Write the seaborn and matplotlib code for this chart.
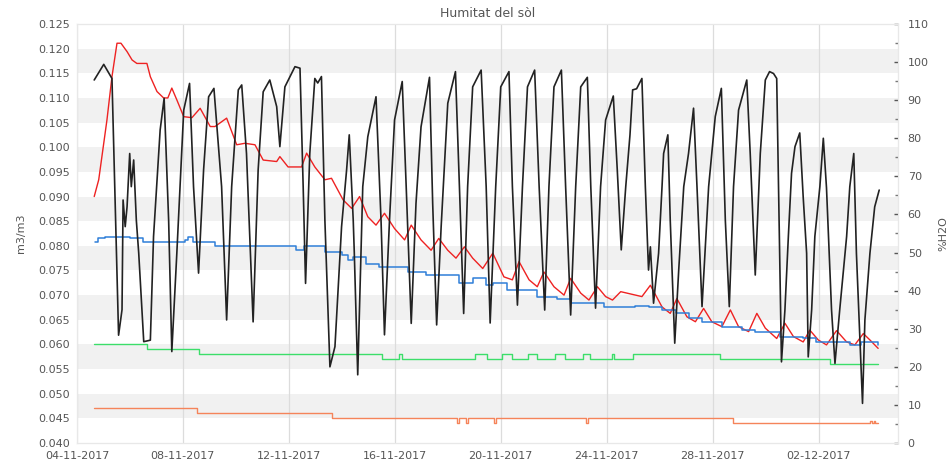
import numpy as np
import pandas as pd
import matplotlib
matplotlib.use("Agg")
import matplotlib.pyplot as plt
import seaborn as sns

# ---------------- data (days since 04-11-2017 00:00) ----------------
START = "2017-11-04"

black_days = [0.65, 1.01, 1.32, 1.57, 1.70, 1.74, 1.82, 1.89, 1.99, 2.05, 2.14, 2.24, 2.33,
              2.52, 2.77, 2.89, 3.14, 3.29, 3.46, 3.58, 3.77, 4.03, 4.25, 4.40, 4.59, 4.78,
              4.97, 5.17, 5.46, 5.65, 5.84, 6.09, 6.22, 6.40, 6.65, 6.84, 7.03, 7.28, 7.54,
              7.66, 7.85, 8.23, 8.42, 8.54, 8.63, 8.79, 8.98, 9.09, 9.23, 9.36, 9.55, 9.74,
              9.99, 10.18, 10.28, 10.43, 10.47, 10.60, 10.79, 10.98, 11.29, 11.48, 11.61,
              11.80, 11.99, 12.28, 12.43, 12.62, 12.80, 12.99, 13.31, 13.43, 13.58, 13.75,
              14.00, 14.29, 14.44, 14.60, 14.75, 14.94, 15.26, 15.45, 15.60, 15.81, 16.00,
              16.31, 16.44, 16.63, 16.82, 17.01, 17.28, 17.45, 17.66, 17.82, 18.01, 18.29,
              18.45, 18.64, 18.83, 19.02, 19.27, 19.40, 19.58, 19.77, 19.96, 20.25, 20.40,
              20.55, 20.72, 20.88, 20.98, 21.13, 21.33, 21.46, 21.58, 21.65, 21.77, 21.96,
              22.09, 22.15, 22.31, 22.40, 22.57, 22.72, 22.91, 23.09, 23.28, 23.41, 23.60,
              23.85, 24.10, 24.33, 24.48, 24.63, 24.79, 24.98, 25.29, 25.42, 25.61, 25.80,
              25.99, 26.15, 26.30, 26.42, 26.60, 26.73, 26.86, 26.98, 27.11, 27.29, 27.42,
              27.55, 27.61, 27.74, 27.86, 28.05, 28.18, 28.30, 28.49, 28.62, 28.80, 29.06,
              29.18, 29.33, 29.43, 29.66, 29.75, 29.94, 30.12, 30.29]
black_vals = [95.3, 99.4, 95.7, 28.3, 35.0, 63.8, 56.8, 62.0, 76.0, 67.3, 74.3, 58.5, 49.9,
              26.6, 27.0, 54.2, 82.2, 90.5, 58.5, 24.0, 49.9, 87.4, 94.4, 67.3, 44.6, 71.7,
              90.9, 93.1, 67.3, 32.3, 67.3, 92.7, 94.0, 76.0, 31.8, 71.7, 92.2, 95.3, 88.3,
              77.8, 93.5, 98.8, 98.4, 67.3, 41.9, 76.0, 95.7, 94.5, 96.2, 58.5, 20.0, 25.3,
              56.8, 71.7, 80.9, 58.5, 50.0, 17.9, 67.3, 80.4, 90.9, 58.5, 28.4,
              58.5, 84.8, 94.9, 67.3, 31.4, 62.9, 83.0, 96.0, 62.9, 31.0, 56.8,
              89.2, 97.5, 67.3, 34.0, 67.3, 93.5, 97.9, 67.3, 31.5, 67.3, 93.5,
              97.5, 67.3, 36.2, 67.3, 93.5, 97.9, 67.3, 34.9, 67.3, 93.5, 97.9,
              67.3, 33.6, 67.3, 93.5, 96.0, 67.3, 35.4, 67.3, 84.8, 91.1, 71.7,
              50.7, 67.3, 80.9, 92.7, 93.0, 95.7, 67.3, 45.4, 51.5, 36.7, 49.8,
              67.3, 76.0, 80.9, 58.5, 26.2, 45.4, 67.3, 76.0, 87.9, 67.3, 35.8,
              67.3, 85.7, 93.1, 58.5, 35.8, 67.3, 87.4, 95.3, 76.0, 44.1, 76.0,
              95.3, 97.5, 97.0, 95.7, 21.3, 34.9, 54.2, 70.8, 77.8, 81.4, 64.6,
              49.8, 22.6, 35.0, 54.2, 67.3, 80.0, 67.0, 35.0, 20.9, 35.0, 54.2,
              67.3, 76.0, 49.8, 10.4, 32.3, 49.8, 62.0, 66.4]

red_days = [0.65, 0.82, 1.13, 1.32, 1.51, 1.66, 1.89, 2.08, 2.26, 2.64, 2.77, 3.02, 3.27,
            3.43, 3.58, 3.77, 4.03, 4.34, 4.65, 5.03, 5.21, 5.65, 6.03, 6.34, 6.72, 7.03,
            7.54, 7.66, 7.97, 8.48, 8.67, 8.98, 9.36, 9.61, 10.05, 10.37, 10.67, 10.98,
            11.29, 11.61, 11.99, 12.37, 12.62, 12.99, 13.37, 13.66, 14.00, 14.31, 14.63,
            14.94, 15.32, 15.70, 16.12, 16.44, 16.69, 17.07, 17.38, 17.63, 18.01, 18.39,
            18.64, 19.02, 19.33, 19.65, 19.96, 20.22, 20.53, 21.33, 21.65, 22.09, 22.40,
            22.65, 23.03, 23.35, 23.66, 23.97, 24.35, 24.67, 24.98, 25.36, 25.67, 25.99,
            26.42, 26.73, 27.05, 27.42, 27.67, 27.99, 28.30, 28.68, 29.06, 29.37, 29.69,
            29.94, 30.25]
red_vals = [0.0900, 0.0934, 0.1055, 0.1143, 0.1211, 0.1211, 0.1194, 0.1177, 0.1170, 0.1170,
            0.1143, 0.1113, 0.1100, 0.1100, 0.1120, 0.1096, 0.1062, 0.1060, 0.1079, 0.1042,
            0.1042, 0.1059, 0.1005, 0.1008, 0.1005, 0.0974, 0.0971, 0.0981, 0.0960, 0.0960,
            0.0988, 0.0960, 0.0934, 0.0937, 0.0893, 0.0876, 0.0900, 0.0859, 0.0842, 0.0866,
            0.0835, 0.0812, 0.0842, 0.0812, 0.0791, 0.0815, 0.0791, 0.0775, 0.0798, 0.0775,
            0.0754, 0.0785, 0.0737, 0.0731, 0.0768, 0.0731, 0.0717, 0.0747, 0.0717, 0.0700,
            0.0734, 0.0704, 0.0690, 0.0717, 0.0697, 0.0690, 0.0707, 0.0697, 0.0720, 0.0676,
            0.0663, 0.0693, 0.0656, 0.0646, 0.0673, 0.0646, 0.0636, 0.0670, 0.0636, 0.0626,
            0.0663, 0.0633, 0.0612, 0.0643, 0.0616, 0.0605, 0.0629, 0.0609, 0.0599, 0.0628,
            0.0605, 0.0599, 0.0622, 0.0609, 0.0592]

blue_days = [0.69, 0.79, 1.06, 1.62, 2.00, 2.38, 2.49, 3.51, 4.08, 4.19, 4.38, 5.21, 8.04,
             8.26, 8.57, 9.32, 9.36, 9.99, 10.24, 10.42, 10.92, 11.42, 11.92, 12.49, 13.18,
             14.06, 14.44, 14.94, 15.45, 15.70, 16.25, 16.87, 17.38, 18.14, 18.64, 19.40,
             19.90, 21.08, 21.58, 22.09, 22.60, 23.09, 23.60, 24.35, 25.11, 25.61, 26.04,
             26.54, 27.42, 27.92, 28.53, 29.18, 29.62, 29.94, 30.25]
blue_vals = [0.0808, 0.0815, 0.0818, 0.0818, 0.0815, 0.0815, 0.0808, 0.0808, 0.0812, 0.0818,
             0.0808, 0.0800, 0.0800, 0.0791, 0.0800, 0.0800, 0.0788, 0.0781, 0.0771, 0.0778,
             0.0764, 0.0758, 0.0758, 0.0747, 0.0741, 0.0741, 0.0724, 0.0734, 0.0720, 0.0724,
             0.0710, 0.0710, 0.0697, 0.0693, 0.0683, 0.0683, 0.0676, 0.0678, 0.0676, 0.0670,
             0.0663, 0.0653, 0.0646, 0.0636, 0.0629, 0.0626, 0.0626, 0.0616, 0.0612, 0.0605,
             0.0605, 0.0599, 0.0605, 0.0605, 0.0599]

green_days = [0.65, 2.63, 4.59, 11.50, 12.15, 12.26, 15.02, 15.47, 16.04, 16.42, 17.02,
              17.36, 18.04, 18.42, 19.09, 19.36, 20.19, 20.26, 20.98, 24.29, 28.42, 30.25]
green_vals = [0.060, 0.059, 0.058, 0.057, 0.058, 0.057, 0.058, 0.057, 0.058, 0.057, 0.058,
              0.057, 0.058, 0.057, 0.058, 0.057, 0.058, 0.057, 0.058, 0.057, 0.056, 0.056]

orange_days = [0.65, 4.52, 9.61, 14.36, 14.42, 14.70, 14.76, 15.75, 15.81, 19.23, 19.29,
               24.77, 29.95, 30.00, 30.10, 30.15, 30.25]
orange_vals = [0.047, 0.046, 0.045, 0.044, 0.045, 0.044, 0.045, 0.044, 0.045, 0.044, 0.045,
               0.044, 0.0445, 0.044, 0.0445, 0.044, 0.044]

tick_dates = ["2017-11-04", "2017-11-08", "2017-11-12", "2017-11-16", "2017-11-20",
              "2017-11-24", "2017-11-28", "2017-12-02"]
tick_labels = ["04-11-2017", "08-11-2017", "12-11-2017", "16-11-2017", "20-11-2017",
               "24-11-2017", "28-11-2017", "02-12-2017"]

# ---------------- figure ----------------
sns.set_theme(style="white")
plt.rcParams["font.family"] = ["DejaVu Sans"]

start = pd.Timestamp(START)


def frame(days, vals):
    return pd.DataFrame({"t": start + pd.to_timedelta(days, unit="D"), "v": vals})


fig = plt.figure(figsize=(9.51, 4.65), dpi=100)
ax = fig.add_axes([77 / 951, 1 - 443 / 465, (898 - 77) / 951, (443 - 24) / 465])
ax2 = ax.twinx()

LC = "#555555"

# background bands
for lo in np.arange(0.045, 0.125, 0.01):
    ax.axhspan(lo, lo + 0.005, color="#f1f1f1", zorder=0, lw=0)

sns.lineplot(data=frame(red_days, red_vals), x="t", y="v", ax=ax, color="#ee2222",
             lw=1.0, estimator=None, zorder=3)
sns.lineplot(data=frame(blue_days, blue_vals), x="t", y="v", ax=ax, color="#2f7fd8",
             lw=1.1, estimator=None, drawstyle="steps-post", zorder=3)
sns.lineplot(data=frame(green_days, green_vals), x="t", y="v", ax=ax, color="#3cde6a",
             lw=1.0, estimator=None, drawstyle="steps-post", zorder=3)
sns.lineplot(data=frame(orange_days, orange_vals), x="t", y="v", ax=ax, color="#f5845a",
             lw=1.0, estimator=None, drawstyle="steps-post", zorder=3)
sns.lineplot(data=frame(black_days, black_vals), x="t", y="v", ax=ax2, color="#222222",
             lw=1.2, estimator=None, zorder=4)

ax.set_ylim(0.040, 0.125)
ax.set_yticks(np.arange(0.040, 0.1251, 0.005))
ax.set_yticklabels([f"{v:.3f}" for v in np.arange(0.040, 0.1251, 0.005)])
ax2.set_ylim(0, 110)
ax2.set_yticks(np.arange(0, 111, 10))
ax2.set_yticks(np.arange(5, 110, 10), minor=True)

ax.set_xlim(start, start + pd.Timedelta(days=31))
ax.set_xticks(pd.to_datetime(tick_dates))
ax.set_xticklabels(tick_labels)
for d in pd.to_datetime(tick_dates):
    ax.axvline(d, color="#dcdcdc", lw=0.9, zorder=1)

ax.tick_params(axis="both", length=0, labelsize=8, labelcolor=LC, pad=5)
ax.tick_params(axis="x", pad=6)
ax2.tick_params(axis="y", which="major", direction="in", length=3, width=1,
                color="#555555", labelsize=8, labelcolor=LC, pad=7)
ax2.tick_params(axis="y", which="minor", direction="in", length=2, width=1,
                color="#777777")

ax.set_xlabel("")
ax.set_ylabel("m3/m3", fontsize=8, color=LC, labelpad=9)
ax2.set_ylabel("%H2O", fontsize=8, color=LC, labelpad=7)
ax.set_title("Humitat del sòl", fontsize=9, color=LC, pad=5)

for a in (ax, ax2):
    for s in a.spines.values():
        s.set_color("#e8e8e8")
        s.set_linewidth(0.8)

ax.grid(False)
ax2.grid(False)

fig.savefig("out.png", dpi=100)
